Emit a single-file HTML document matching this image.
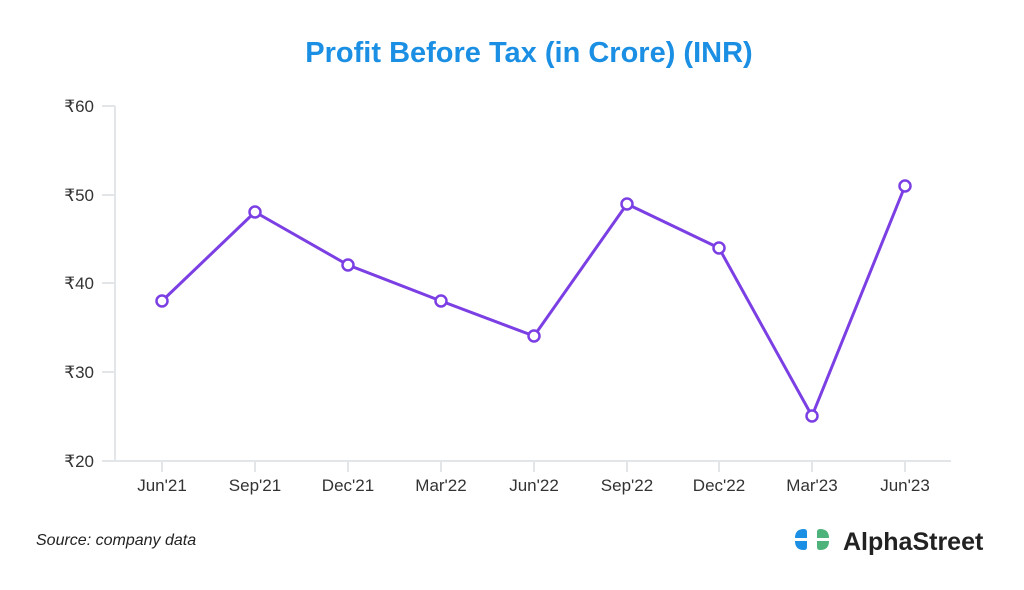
<!DOCTYPE html>
<html><head><meta charset="utf-8"><style>
body{margin:0;background:#fff;width:1024px;height:585px;overflow:hidden;font-family:"Liberation Sans",sans-serif}
</style></head><body>
<svg width="1024" height="585" xmlns="http://www.w3.org/2000/svg">
<text x="529" y="62" text-anchor="middle" font-size="29" font-weight="bold" fill="#1a8fe3" font-family="Liberation Sans, sans-serif">Profit Before Tax (in Crore) (INR)</text>
<g stroke="#e3e6e8" stroke-width="2" fill="none">
<line x1="115" y1="106" x2="115" y2="461"/>
<line x1="115" y1="461" x2="951" y2="461"/>
<line x1="102" y1="106" x2="115" y2="106"/>
<line x1="102" y1="195" x2="115" y2="195"/>
<line x1="102" y1="283" x2="115" y2="283"/>
<line x1="102" y1="372" x2="115" y2="372"/>
<line x1="102" y1="461" x2="115" y2="461"/>
<line x1="162" y1="461" x2="162" y2="472"/><line x1="255" y1="461" x2="255" y2="472"/><line x1="348" y1="461" x2="348" y2="472"/><line x1="441" y1="461" x2="441" y2="472"/><line x1="534" y1="461" x2="534" y2="472"/><line x1="627" y1="461" x2="627" y2="472"/><line x1="719" y1="461" x2="719" y2="472"/><line x1="812" y1="461" x2="812" y2="472"/><line x1="905" y1="461" x2="905" y2="472"/>
</g>
<g font-size="17" fill="#333" text-anchor="end">
<text x="94" y="112">₹60</text><text x="94" y="201">₹50</text><text x="94" y="289">₹40</text><text x="94" y="378">₹30</text><text x="94" y="467">₹20</text>
</g>
<g font-size="17" fill="#333" text-anchor="middle">
<text x="162" y="491">Jun'21</text><text x="255" y="491">Sep'21</text><text x="348" y="491">Dec'21</text><text x="441" y="491">Mar'22</text><text x="534" y="491">Jun'22</text><text x="627" y="491">Sep'22</text><text x="719" y="491">Dec'22</text><text x="812" y="491">Mar'23</text><text x="905" y="491">Jun'23</text>
</g>
<polyline fill="none" stroke="#7b3fe4" stroke-width="3" stroke-linejoin="round" points="162,301 255,212 348,265 441,301 534,336 627,204 719,248 812,416 905,186"/>
<g fill="#fff" stroke="#7b3fe4" stroke-width="2.5">
<circle cx="162" cy="301" r="5.5"/><circle cx="255" cy="212" r="5.5"/><circle cx="348" cy="265" r="5.5"/><circle cx="441" cy="301" r="5.5"/><circle cx="534" cy="336" r="5.5"/><circle cx="627" cy="204" r="5.5"/><circle cx="719" cy="248" r="5.5"/><circle cx="812" cy="416" r="5.5"/><circle cx="905" cy="186" r="5.5"/>
</g>
<text x="36" y="545" font-size="16" font-style="italic" fill="#222">Source: company data</text>
<g>
<path d="M795,538 Q795,529 804,529 Q807,529 807,532 V538 Z" fill="#1a8fe3"/>
<path d="M795,541 H807 V547 Q807,550 804,550 Q795,550 795,541 Z" fill="#1a8fe3"/>
<path d="M829,538 Q829,529 820,529 Q817,529 817,532 V538 Z" fill="#4db37a"/>
<path d="M829,541 H817 V547 Q817,550 820,550 Q829,550 829,541 Z" fill="#4db37a"/>
</g>
<text x="843" y="550" font-size="25" font-weight="bold" fill="#222">AlphaStreet</text>
</svg>
</body></html>
